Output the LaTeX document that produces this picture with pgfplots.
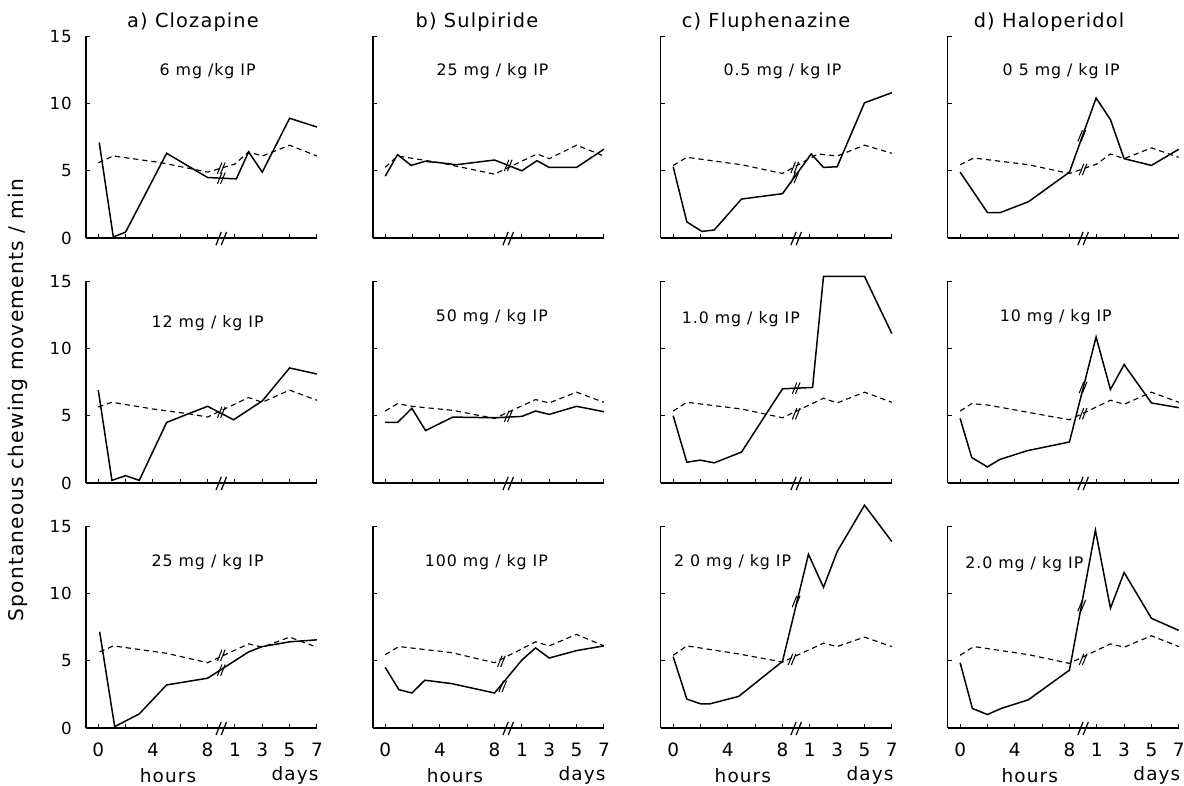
\documentclass[border=0pt]{standalone}
\usepackage{fontspec}
\setmainfont{DejaVu Sans}[LetterSpace=6]
\usepackage{pgfplots}
\pgfplotsset{compat=1.18}

% "//" break symbol used on the curves and on the time axis
\pgfdeclareplotmark{brk}{%
  \pgfpathmoveto{\pgfpoint{-2.2pt}{-3.2pt}}\pgfpathlineto{\pgfpoint{0.4pt}{3.2pt}}%
  \pgfpathmoveto{\pgfpoint{-0.4pt}{-3.2pt}}\pgfpathlineto{\pgfpoint{2.2pt}{3.2pt}}%
  \pgfusepathqstroke}
\pgfdeclareplotmark{axbrk}{%
  \pgfpathmoveto{\pgfpoint{-3pt}{-4pt}}\pgfpathlineto{\pgfpoint{0pt}{3.5pt}}%
  \pgfpathmoveto{\pgfpoint{0pt}{-4pt}}\pgfpathlineto{\pgfpoint{3pt}{3.5pt}}%
  \pgfusepathqstroke}

\pgfplotsset{
  panel/.style={
    scale only axis, width=4.62cm, height=4.04cm,
    xmin=-0.9, xmax=16, ymin=0, ymax=15,
    axis x line=bottom, axis y line=left,
    axis line style={-, line width=0.7pt},
    xtick={0,2,...,16}, ytick={0,5,10,15},
    xticklabels={}, yticklabels={},
    tick style={line width=0.6pt, black}, major tick length=0.09cm,
    tick align=inside,
    clip=false, anchor=south west,
    tick label style={font=\fontsize{9.5}{10}\selectfont},
    yticklabel style={xshift=-0.16cm},
    xticklabel style={yshift=-0.18cm, font=\fontsize{10.5}{11}\selectfont},
  },
  leftcol/.style={yticklabels={0,5,10,15}},
  bottomrow/.style={xticklabels={0,,4,,8,1,3,5,7}},
  drug/.style={black, line width=0.85pt, mark=none},
  ctrl/.style={black, line width=0.65pt, dash pattern=on 3pt off 2.2pt, mark=none},
  brks/.style={only marks, mark=brk, mark options={solid, line width=0.6pt, black}},
  axb/.style={only marks, mark=axbrk, mark options={solid, line width=0.7pt, black}},
}
\newcommand{\dose}[3]{\node[font=\fontsize{9}{10}\selectfont] at (axis cs:#1,#2) {#3};}

\begin{document}
\begin{tikzpicture}[x=0.02cm, y=0.02cm]
\useasboundingbox (0,0) rectangle (1184,785);

% ---------------- row 1 ----------------
\begin{axis}[panel, leftcol, at={(1.72cm,10.94cm)}]
\addplot[ctrl] coordinates {(0,5.6)(1.1,6.1)(4.6,5.6)(8,4.9)(10,5.5)(11,6.4)(12,6.1)(14,6.9)(16,6.1)};
\addplot[drug] coordinates {(0.07,7.1)(1.1,0.08)(2,0.45)(5,6.3)(8,4.5)(10.1,4.4)(11,6.4)(12,4.9)(14,8.9)(16,8.25)};
\addplot[brks] coordinates {(9,4.45)(9,5.2)};
\addplot[axb] coordinates {(9,0)};
\dose{8}{12.4}{6 mg /kg IP}
\end{axis}

\begin{axis}[panel, at={(7.46cm,10.94cm)}]
\addplot[ctrl] coordinates {(0,5.25)(0.9,6.1)(4,5.6)(8,4.75)(11.1,6.25)(12,5.9)(14,6.9)(16,6.1)};
\addplot[drug] coordinates {(0,4.6)(0.9,6.2)(1.9,5.4)(2.9,5.7)(4,5.6)(5.2,5.45)(8,5.8)(10,5.0)(11.1,5.75)(12,5.25)(14,5.25)(16,6.6)};
\addplot[brks] coordinates {(9,5.4)};
\addplot[axb] coordinates {(9,0)};
\dose{7.85}{12.4}{25 mg / kg IP}
\end{axis}

\begin{axis}[panel, at={(13.22cm,10.94cm)}]
\addplot[ctrl] coordinates {(0,5.4)(1,6.0)(5,5.45)(8,4.8)(10.6,6.25)(12,6.1)(14,6.9)(16,6.3)};
\addplot[drug] coordinates {(0,5.3)(1,1.2)(2.1,0.5)(3,0.6)(5,2.9)(8,3.3)(10.1,6.25)(11,5.25)(12,5.3)(14,10.05)(16,10.8)};
\addplot[brks] coordinates {(8.9,4.5)(8.9,5.25)};
\addplot[axb] coordinates {(9,0)};
\dose{8}{12.4}{0.5 mg / kg IP}
\end{axis}

\begin{axis}[panel, at={(18.96cm,10.94cm)}]
\addplot[ctrl] coordinates {(0,5.45)(1,5.95)(5,5.45)(8,4.8)(10,5.5)(11,6.25)(12,5.9)(14,6.7)(16,6.0)};
\addplot[drug] coordinates {(0,4.9)(2,1.9)(2.95,1.9)(5,2.7)(8,4.9)(9.95,10.4)(11,8.8)(12,5.9)(14,5.4)(16,6.6)};
\addplot[brks] coordinates {(8.9,7.6)(9,5.1)};
\addplot[axb] coordinates {(9,0)};
\dose{7.4}{12.4}{0 5 mg / kg IP}
\end{axis}

% ---------------- row 2 ----------------
\begin{axis}[panel, leftcol, at={(1.72cm,6.04cm)}]
\addplot[ctrl] coordinates {(0,5.65)(1,6.0)(4,5.5)(6.6,5.15)(8,4.9)(11,6.35)(12,6.0)(14,6.9)(16,6.15)};
\addplot[drug] coordinates {(0,6.9)(1,0.2)(2,0.55)(3,0.2)(5,4.5)(6.6,5.15)(8,5.7)(9.9,4.7)(12,6.1)(14,8.55)(16,8.1)};
\addplot[brks] coordinates {(9,5.25)};
\addplot[axb] coordinates {(9,0)};
\dose{8}{11.9}{12 mg / kg IP}
\end{axis}

\begin{axis}[panel, at={(7.46cm,6.04cm)}]
\addplot[ctrl] coordinates {(0,5.35)(0.9,5.9)(1.95,5.7)(4.95,5.4)(8,4.8)(11,6.2)(12,5.95)(14,6.75)(16,6.0)};
\addplot[drug] coordinates {(0,4.5)(0.9,4.5)(1.95,5.55)(2.95,3.9)(4.95,4.9)(8,4.85)(10,4.95)(11,5.35)(12,5.1)(14,5.7)(16,5.3)};
\addplot[brks] coordinates {(9,4.95)};
\addplot[axb] coordinates {(9,0)};
\dose{7.8}{12.3}{50 mg / kg IP}
\end{axis}

\begin{axis}[panel, at={(13.22cm,6.04cm)}]
\addplot[ctrl] coordinates {(0,5.35)(1,6.0)(5,5.5)(8,4.85)(11,6.3)(12,5.95)(14,6.75)(16,6.0)};
\addplot[drug] coordinates {(0,5.0)(1,1.55)(2,1.7)(3,1.5)(5,2.3)(8,7.0)(10.2,7.1)(11,15.35)(14,15.35)(16,11.1)};
\addplot[brks] coordinates {(9,7.05)(9,5.15)};
\addplot[axb] coordinates {(9,0)};
\dose{4.95}{12.2}{1.0 mg / kg IP}
\end{axis}

\begin{axis}[panel, at={(18.96cm,6.04cm)}]
\addplot[ctrl] coordinates {(0,5.35)(0.85,5.9)(2,5.8)(8,4.7)(11,6.15)(12,5.85)(14,6.75)(16,6.0)};
\addplot[drug] coordinates {(0,4.8)(0.85,1.9)(2,1.2)(2.9,1.75)(4.9,2.4)(8,3.05)(9.95,10.85)(11,6.95)(12,8.8)(14,5.95)(16,5.6)};
\addplot[brks] coordinates {(9,7.1)(9,5.15)};
\addplot[axb] coordinates {(9,0)};
\dose{7}{12.3}{10 mg / kg IP}
\end{axis}

% ---------------- row 3 ----------------
\begin{axis}[panel, leftcol, bottomrow, at={(1.72cm,1.14cm)}]
\addplot[ctrl] coordinates {(0.1,5.65)(1.1,6.1)(5,5.55)(8,4.85)(11,6.25)(12,6.0)(14,6.75)(16,6.0)};
\addplot[drug] coordinates {(0.1,7.15)(1.2,0.1)(3,1.05)(5,3.2)(8,3.7)(10,5.0)(11,5.65)(12,6.05)(14,6.4)(16,6.55)};
\addplot[brks] coordinates {(9,4.3)(9,5.4)};
\addplot[axb] coordinates {(9,0)};
\dose{8}{12.3}{25 mg / kg IP}
\node[font=\fontsize{10.5}{11}\selectfont] at (axis cs:5.1,-3.5) {hours};
\node[font=\fontsize{10.5}{11}\selectfont] at (axis cs:14.4,-3.5) {days};
\end{axis}

\begin{axis}[panel, bottomrow, at={(7.46cm,1.14cm)}]
\addplot[ctrl] coordinates {(0,5.45)(1,6.05)(4.85,5.6)(8,4.85)(11,6.4)(12,6.1)(14,6.95)(16,6.1)};
\addplot[drug] coordinates {(0,4.5)(1,2.85)(1.95,2.6)(2.9,3.55)(4.85,3.3)(8,2.6)(10,5.05)(11,5.95)(12,5.2)(14,5.75)(16,6.1)};
\addplot[brks] coordinates {(8.6,3.1)(8.5,4.95)};
\addplot[axb] coordinates {(9,0)};
\dose{7.4}{12.3}{100 mg / kg IP}
\node[font=\fontsize{10.5}{11}\selectfont] at (axis cs:5.1,-3.5) {hours};
\node[font=\fontsize{10.5}{11}\selectfont] at (axis cs:14.4,-3.5) {days};
\end{axis}

\begin{axis}[panel, bottomrow, at={(13.22cm,1.14cm)}]
\addplot[ctrl] coordinates {(0,5.4)(1,6.1)(4.8,5.5)(8,4.9)(11,6.3)(12,6.05)(14,6.75)(16,6.05)};
\addplot[drug] coordinates {(0,5.3)(1,2.15)(2,1.8)(2.7,1.8)(4.8,2.35)(8,4.95)(9.9,12.9)(11,10.45)(12,13.1)(14,16.55)(16,13.85)};
\addplot[brks] coordinates {(9,9.4)(8.7,5.1)};
\addplot[axb] coordinates {(9,0)};
\dose{4.35}{12.3}{2 0 mg / kg IP}
\node[font=\fontsize{10.5}{11}\selectfont] at (axis cs:5.1,-3.5) {hours};
\node[font=\fontsize{10.5}{11}\selectfont] at (axis cs:14.4,-3.5) {days};
\end{axis}

\begin{axis}[panel, bottomrow, at={(18.96cm,1.14cm)}]
\addplot[ctrl] coordinates {(0,5.4)(1,6.05)(5,5.45)(8,4.8)(11,6.25)(12,6.0)(14,6.85)(16,6.05)};
\addplot[drug] coordinates {(0,4.85)(0.9,1.45)(2,1.0)(3,1.45)(5,2.1)(8,4.3)(9.9,14.7)(11,8.9)(12,11.55)(14,8.15)(16,7.25)};
\addplot[brks] coordinates {(8.9,9.1)(9,5.1)};
\addplot[axb] coordinates {(9,0)};
\dose{4.7}{12.2}{2.0 mg / kg IP}
\node[font=\fontsize{10.5}{11}\selectfont] at (axis cs:5.1,-3.5) {hours};
\node[font=\fontsize{10.5}{11}\selectfont] at (axis cs:14.4,-3.5) {days};
\end{axis}

% column titles and y label
\node[font=\fontsize{11}{12}\selectfont] at (193,763) {a) Clozapine};
\node[font=\fontsize{11}{12}\selectfont] at (477,763) {b) Sulpiride};
\node[font=\fontsize{11}{12}\selectfont] at (766,763) {c) Fluphenazine};
\node[font=\fontsize{11}{12}\selectfont] at (1049,763) {d) Haloperidol};
\node[font=\fontsize{11.5}{12}\selectfont, rotate=90] at (18,385) {Spontaneous chewing movements / min};
\end{tikzpicture}
\end{document}
